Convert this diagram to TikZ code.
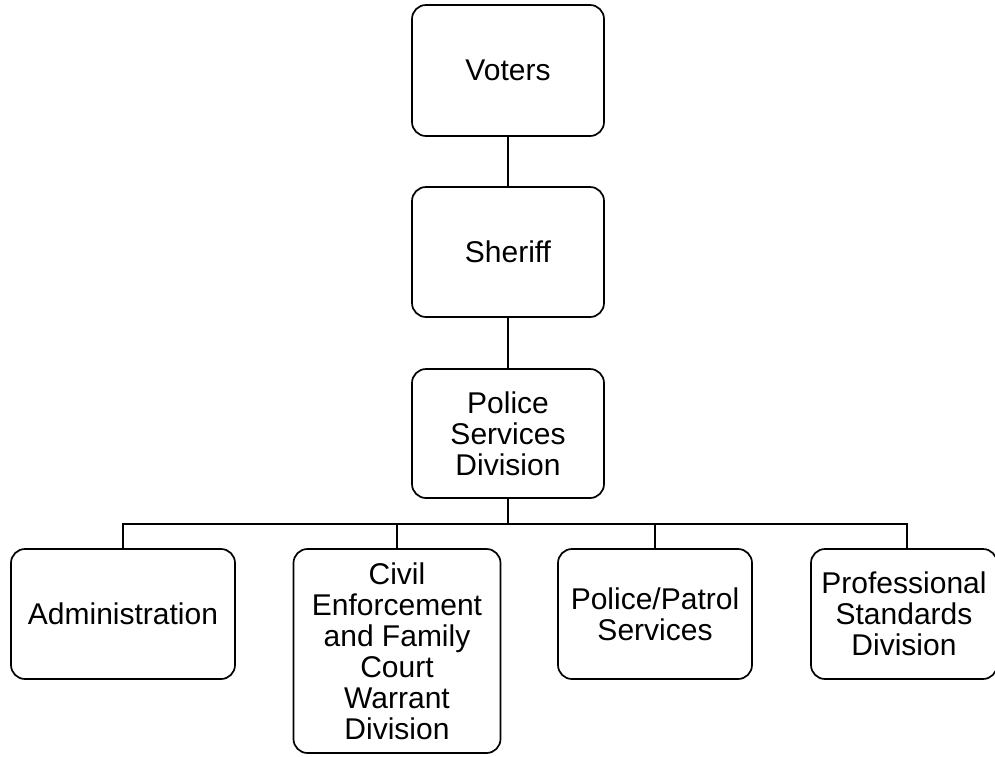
\documentclass[tikz,border=0pt]{standalone}
\usepackage{fontspec}
\setmainfont{Liberation Sans}
\begin{document}
\begin{tikzpicture}[x=1pt,y=-1pt,
  unit/.style={draw, line width=1.7pt, rounded corners=14pt, inner sep=0pt,
    align=center, font=\fontsize{30}{31}\selectfont},
  link/.style={line width=1.6pt}]
\useasboundingbox (0,0) rectangle (995,756);

% chain of command
\node[unit, minimum width=192pt, minimum height=131pt] (voters) at (508,70.5) {Voters};
\node[unit, minimum width=192pt, minimum height=130pt] (sheriff) at (508,252) {Sheriff};
\node[unit, minimum width=192pt, minimum height=129pt] (psd) at (508,433.5) {Police\\Services\\Division};

% divisions
\node[unit, minimum width=224pt, minimum height=130pt] (admin) at (123,614) {Administration};
\node[unit, minimum width=207pt, minimum height=204pt] (civil) at (397,651) {Civil\\Enforcement\\and Family\\Court\\Warrant\\Division};
\node[unit, minimum width=194pt, minimum height=130pt] (patrol) at (655,614) {Police/Patrol\\Services};
\node[unit, minimum width=186pt, minimum height=130pt] (prof) at (904,614) {Professional\\Standards\\Division};

% horizontal distribution line and its right end
\coordinate (bus) at (508,524);
\coordinate (proftop) at (907,549);

\draw[link] (voters) -- (sheriff);
\draw[link] (sheriff) -- (psd);
\draw[link] (psd.south) -- (bus);
\draw[link] (admin.north) |- (bus) -| (proftop);
\draw[link] (civil.north) -- (civil.north |- bus);
\draw[link] (patrol.north) -- (patrol.north |- bus);
\end{tikzpicture}
\end{document}
